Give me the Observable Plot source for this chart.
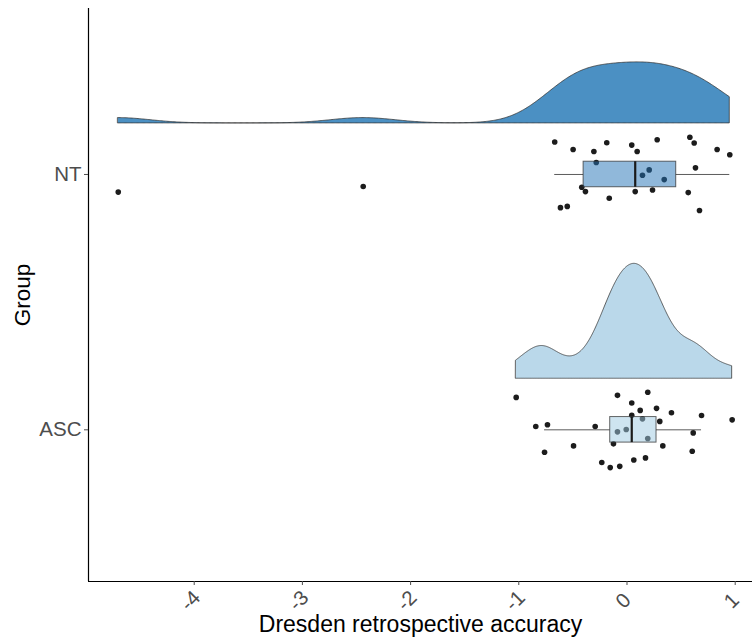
<!DOCTYPE html>
<html>
<head>
<meta charset="utf-8">
<script src="https://cdn.jsdelivr.net/npm/d3@7"></script>
<script src="https://cdn.jsdelivr.net/npm/@observablehq/plot@0.6"></script>
<style>
  body { margin: 0; background: #fff; }
  #chart svg { display: block; }
</style>
</head>
<body>
<div id="chart"></div>
<script>
// Groups, bottom to top on the y axis
const groups = ["ASC", "NT"];

// Dresden retrospective accuracy scores per participant
const ntScores = [-0.668, -0.498, -0.306, -0.187, -0.284, 0.044, 0.094, 0.279, 0.581, 0.621,
  0.833, 0.950, 0.633, 0.143, 0.205, 0.344, -0.418, -0.384, -0.164, 0.076,
  0.236, 0.566, -0.615, -0.552, 0.670, -4.702, -2.438];
// vertical jitter of each NT point (in group units)
const ntJitter = [0.127, 0.098, 0.090, 0.124, 0.047, 0.115, 0.090, 0.136, 0.146, 0.123,
  0.098, 0.077, 0.026, -0.003, 0.018, -0.020, -0.050, -0.067, -0.093, -0.067,
  -0.061, -0.071, -0.130, -0.125, -0.141, -0.069, -0.047];

const ascScores = [-1.024, -0.843, -0.735, -0.762, -0.494, -0.294, -0.233, -0.155, -0.067, -0.125,
  -0.088, -0.007, -0.088, 0.044, 0.044, 0.122, 0.143, 0.192, 0.273, 0.303,
  0.192, 0.063, 0.171, 0.331, 0.411, 0.603, 0.612, 0.689, 0.972];
const ascJitter = [0.127, 0.013, 0.020, -0.088, -0.063, 0.013, -0.128, -0.148, -0.143, -0.055,
  -0.008, 0.001, 0.135, 0.105, 0.057, 0.076, 0.043, 0.147, 0.084, 0.033,
  -0.034, -0.118, -0.110, -0.063, 0.067, -0.084, -0.012, 0.056, 0.039];

const xTicks = [-4, -3, -2, -1, 0, 1];

// Palette (Brewer blues)
const groupColor = { NT: "#2171B5", ASC: "#9ECAE1" };
const cloudColor = { NT: "#4B90C3", ASC: "#BAD8EA" };

const samples = { NT: ntScores, ASC: ascScores };
const jitters = { NT: ntJitter, ASC: ascJitter };
const groupPos = g => groups.indexOf(g) + 1;

// Raw points with jitter
const points = groups.flatMap(g =>
  samples[g].map((v, i) => ({ group: g, score: v, y: groupPos(g) + jitters[g][i] })));

// Gaussian kernel density, R's nrd0 bandwidth, trimmed to the data range
function bwNrd0(v) {
  const sd = d3.deviation(v);
  const iqr = d3.quantile(v, 0.75) - d3.quantile(v, 0.25);
  return 0.9 * Math.min(sd, iqr / 1.34) * Math.pow(v.length, -0.2);
}
function kde(v) {
  const h = bwNrd0(v);
  const [lo, hi] = d3.extent(v);
  const n = 512;
  const c = 1 / (v.length * h * Math.sqrt(2 * Math.PI));
  return d3.range(n).map(i => {
    const x = lo + (hi - lo) * i / (n - 1);
    return { x, d: c * d3.sum(v, xi => Math.exp(-0.5 * ((x - xi) / h) ** 2)) };
  });
}
const nudge = 0.2;      // cloud sits above its group line
const halfWidth = 0.45; // tallest cloud height
const curves = Object.fromEntries(groups.map(g => [g, kde(samples[g])]));
const maxD = d3.max(groups, g => d3.max(curves[g], p => p.d));
const clouds = groups.flatMap(g => curves[g].map(p => ({
  group: g,
  x: p.x,
  y1: groupPos(g) + nudge,
  y2: groupPos(g) + nudge + halfWidth * p.d / maxD
})));

// Box-plot statistics (Tukey whiskers)
const boxHalf = 0.05;
const stats = groups.map(g => {
  const v = samples[g].slice().sort(d3.ascending);
  const q1 = d3.quantile(v, 0.25), med = d3.quantile(v, 0.5), q3 = d3.quantile(v, 0.75);
  const iqr = q3 - q1;
  const lo = d3.min(v.filter(d => d >= q1 - 1.5 * iqr));
  const hi = d3.max(v.filter(d => d <= q3 + 1.5 * iqr));
  return { group: g, pos: groupPos(g), q1, med, q3, lo, hi };
});

const xDomain = [-4.977, 1.16];
const yDomain = [0.406, 2.65];

const chart = Plot.plot({
  width: 752,
  height: 643,
  marginTop: 8,
  marginBottom: 62,
  marginLeft: 88,
  marginRight: 0,
  style: { fontFamily: "'Liberation Sans', Arial, sans-serif", background: "#fff" },
  x: { domain: xDomain },
  y: { domain: yDomain },
  color: { type: "identity" },
  marks: [
    // clouds
    Plot.areaY(clouds, {
      x: "x", y1: "y1", y2: "y2", z: "group",
      fill: d => cloudColor[d.group],
      stroke: "#333", strokeWidth: 0.9, strokeOpacity: 0.85
    }),
    // rain
    Plot.dot(points, { x: "score", y: "y", r: 2.8, fill: "#1c1c1c", stroke: "none" }),
    // whiskers
    Plot.ruleY(stats, { y: "pos", x1: "lo", x2: "q1", stroke: "#333", strokeOpacity: 0.8, strokeWidth: 1 }),
    Plot.ruleY(stats, { y: "pos", x1: "q3", x2: "hi", stroke: "#333", strokeOpacity: 0.8, strokeWidth: 1 }),
    // boxes
    Plot.rect(stats, {
      x1: "q1", x2: "q3",
      y1: d => d.pos - boxHalf, y2: d => d.pos + boxHalf,
      fill: d => groupColor[d.group], fillOpacity: 0.5,
      stroke: "#333", strokeOpacity: 0.75, strokeWidth: 1
    }),
    Plot.ruleX(stats, {
      x: "med", y1: d => d.pos - boxHalf, y2: d => d.pos + boxHalf,
      stroke: "#1a1a1a", strokeWidth: 2.2
    }),
    // axis lines
    Plot.ruleX([xDomain[0]], { stroke: "#000", strokeWidth: 1.2 }),
    Plot.ruleY([yDomain[0]], { stroke: "#000", strokeWidth: 1.2 }),
    // y axis
    Plot.axisY({
      ticks: [1, 2], tickFormat: d => groups[d - 1],
      tickSize: 4, tickPadding: 3, fontSize: 20.5,
      color: "#4d4d4d", label: null
    }),
    Plot.text(["Group"], {
      frameAnchor: "left", textAnchor: "middle", dx: -66, rotate: -90,
      fontSize: 22.5, fill: "#000"
    }),
    // x axis
    Plot.axisX({ ticks: xTicks, tickFormat: () => "", tickSize: 4, color: "#4d4d4d", label: null }),
    Plot.text(xTicks, {
      x: d => d, text: d => String(d),
      frameAnchor: "bottom", dy: 24, dx: 1, rotate: -45,
      fontSize: 20.5, fill: "#4d4d4d"
    }),
    Plot.text(["Dresden retrospective accuracy"], {
      frameAnchor: "bottom", dy: 50, fontSize: 23, fill: "#000"
    })
  ]
});

document.getElementById("chart").appendChild(chart);
</script>
</body>
</html>
